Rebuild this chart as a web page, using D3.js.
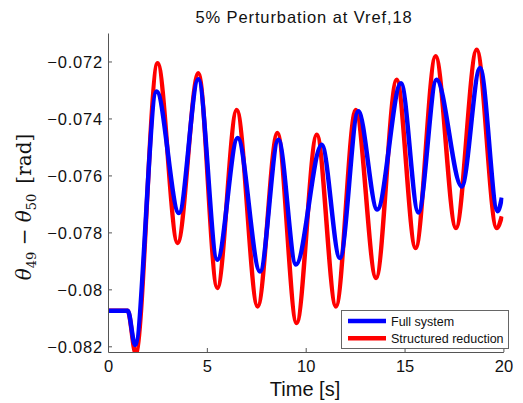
<!DOCTYPE html>
<html>
<head>
<meta charset="utf-8">
<script src="https://cdn.jsdelivr.net/npm/d3@7"></script>
<style>
    body { margin: 0; background: #fff; }
    text { font-family: 'Liberation Sans', Arial, sans-serif; fill: #111; }
</style>
</head>
<body>
<div id="chart"></div>
<script>
// values (extrema of each oscillation)
let fullTime = [0, 1.0, 1.37, 2.46, 3.59, 4.57, 5.53, 6.56, 7.69, 8.62, 9.51, 10.81, 11.73, 12.66, 13.62, 14.82, 15.70, 16.62, 17.89, 18.82, 19.71, 19.92];
let fullValue = [-0.08075, -0.08075, -0.08195, -0.07305, -0.07732, -0.07262, -0.07896, -0.07469, -0.07937, -0.07475, -0.07913,
    -0.07492, -0.07890, -0.07375, -0.07720, -0.07276, -0.07730, -0.07264, -0.07639, -0.07223, -0.07726, -0.07678];

let redTime = [0, 1.0, 1.40, 2.51, 3.52, 4.57, 5.53, 6.51, 7.57, 8.57, 9.54, 10.56, 11.53, 12.53, 13.56, 14.60, 15.56, 16.57, 17.60, 18.65, 19.66, 19.92];
let redValue = [-0.08075, -0.08075, -0.08225, -0.07206, -0.07837, -0.07241, -0.07995, -0.07370, -0.08060, -0.07451, -0.08118,
    -0.07457, -0.08060, -0.07370, -0.07960, -0.07264, -0.07855, -0.07182, -0.07785, -0.07159, -0.07785, -0.07744];

let xTicks = [0, 5, 10, 15, 20];
let yTicks = [-0.082, -0.080, -0.078, -0.076, -0.074, -0.072];
let yTickLabels = ['\u22120.082', '\u22120.08', '\u22120.078', '\u22120.076', '\u22120.074', '\u22120.072'];
let seriesNames = ['Full system', 'Structured reduction'];
let seriesColors = ['#0000ff', '#ff0000'];

let width = 523;
let height = 403;
let margin = ({ top: 33, right: 20, bottom: 51, left: 108 });

let x = d3.scaleLinear()
    .domain([0, 20])
    .range([margin.left, width - margin.right + 0.4]);

let y = d3.scaleLinear()
    .domain([-0.0822, -0.071])
    .range([height - margin.bottom, margin.top]);

let svg = d3.select('#chart')
    .append('svg')
    .attr('width', width)
    .attr('height', height);

svg.append('clipPath')
    .attr('id', 'plot-clip')
    .append('rect')
    .attr('x', margin.left)
    .attr('y', margin.top)
    .attr('width', x(20) - margin.left)
    .attr('height', height - margin.bottom - margin.top);

let line = d3.line()
    .x(d => x(d[0]))
    .y(d => y(d[1]))
    .curve(d3.curveMonotoneX);

let fullData = fullTime.map((t, i) => [t, fullValue[i]]);
let redData = redTime.map((t, i) => [t, redValue[i]]);

let plot = svg.append('g').attr('clip-path', 'url(#plot-clip)');

// red first, blue drawn on top
plot.append('path')
    .datum(redData)
    .attr('fill', 'none')
    .attr('stroke', seriesColors[1])
    .attr('stroke-width', 4.5)
    .attr('stroke-linejoin', 'round')
    .attr('d', line);

plot.append('path')
    .datum(fullData)
    .attr('fill', 'none')
    .attr('stroke', seriesColors[0])
    .attr('stroke-width', 4.5)
    .attr('stroke-linejoin', 'round')
    .attr('d', line);

// axes, ticks point inward
let xAxis = g => g
    .attr('transform', `translate(0,${height - margin.bottom})`)
    .call(d3.axisBottom(x)
        .tickValues(xTicks)
        .tickFormat(d3.format('d'))
        .tickSizeInner(-4)
        .tickSizeOuter(0)
        .tickPadding(8));

let yAxis = g => g
    .attr('transform', `translate(${margin.left},0)`)
    .call(d3.axisLeft(y)
        .tickValues(yTicks)
        .tickFormat((d, i) => yTickLabels[i])
        .tickSizeInner(-4)
        .tickSizeOuter(0)
        .tickPadding(5));

let gx = svg.append('g').call(xAxis);
let gy = svg.append('g').call(yAxis);

[gx, gy].forEach(g => {
    g.select('.domain').attr('stroke', '#555');
    g.selectAll('.tick line').attr('stroke', '#555');
    g.selectAll('.tick text')
        .attr('fill', '#111')
        .style('font-family', "'Liberation Sans', Arial, sans-serif")
        .style('font-size', '16.5px');
});
gy.selectAll('.tick text')
    .attr('dy', '0.36em')
    .style('letter-spacing', '0.8px');

// title
svg.append('text')
    .attr('x', 304)
    .attr('y', 23)
    .attr('text-anchor', 'middle')
    .style('font-size', '16.5px')
    .style('letter-spacing', '0.9px')
    .text('5% Perturbation at Vref,18');

// x label
svg.append('text')
    .attr('x', 305)
    .attr('y', 396)
    .attr('text-anchor', 'middle')
    .style('font-size', '20px')
    .text('Time [s]');

// y label (latex style)
let ylab = svg.append('text')
    .attr('transform', 'translate(31,207) rotate(-90)')
    .attr('text-anchor', 'middle')
    .style('font-family', "'DejaVu Serif', 'Liberation Serif', serif")
    .style('font-size', '20px');
ylab.append('tspan').style('font-style', 'italic').text('\u03b8');
ylab.append('tspan').attr('dy', 5).style('font-size', '13px').text('49');
ylab.append('tspan').attr('dy', -5).text(' \u2212 ');
ylab.append('tspan').style('font-style', 'italic').text('\u03b8');
ylab.append('tspan').attr('dy', 5).style('font-size', '13px').text('50');
ylab.append('tspan').attr('dy', -5).text('\u2002[rad]');

// legend
let legend = svg.append('g');
legend.append('rect')
    .attr('x', 341.5)
    .attr('y', 310.5)
    .attr('width', 167)
    .attr('height', 38)
    .attr('fill', '#fff')
    .attr('stroke', '#666')
    .attr('stroke-width', 1);

seriesNames.forEach((name, i) => {
    let ly = 321 + i * 17.3;
    legend.append('line')
        .attr('x1', 348)
        .attr('x2', 386)
        .attr('y1', ly)
        .attr('y2', ly)
        .attr('stroke', seriesColors[i])
        .attr('stroke-width', 4.5);
    legend.append('text')
        .attr('x', 391)
        .attr('y', ly + 4.5)
        .style('font-size', '12.5px')
        .text(name);
});
</script>
</body>
</html>
